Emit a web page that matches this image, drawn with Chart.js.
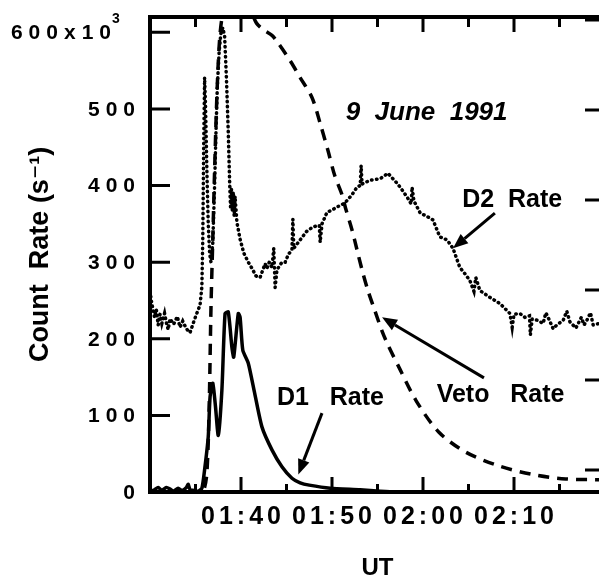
<!DOCTYPE html>
<html>
<head>
<meta charset="utf-8">
<script src="https://cdn.jsdelivr.net/npm/chart.js@4.4.1/dist/chart.umd.min.js"></script>
<style>
  html, body { margin: 0; padding: 0; background: #fff; overflow: hidden; }
  #wrap { width: 599px; height: 578px; overflow: hidden; }
  canvas { display: block; }
</style>
</head>
<body>
<div id="wrap"><canvas id="chart" width="615" height="578"></canvas></div>
<script>
/* =====================================================
   9 June 1991 – count rates (D1, D2, veto)
   time in minutes after 00:00 UT (100 = 01:40), rates in 10^3 s^-1
===================================================== */

const d2Time = [90.0, 90.2, 90.5, 90.7, 90.9, 91.1, 91.3, 91.6, 91.8, 92.0, 92.2, 92.6, 93.0, 93.3, 93.6, 94.0, 94.4, 94.8, 95.1, 95.5,
  95.7, 95.8, 95.9, 96.0, 96.1, 96.25, 96.4, 96.55, 96.7, 96.9, 97.1, 97.25, 97.4, 97.6, 97.8, 98.0, 98.2, 98.4, 98.6, 98.75,
  98.85, 98.95, 99.05, 99.15, 99.25, 99.35, 99.55, 99.9, 100.3, 100.8, 101.2, 101.65, 102.1, 102.4, 102.65, 102.85, 103.1, 103.4, 103.6, 103.75,
  103.95, 104.5, 104.85, 105.2, 105.6, 105.7, 105.8, 106.5, 107.2, 107.9, 108.6, 108.7, 108.9, 109.45, 110.0, 110.55, 111.4, 112.2, 112.75, 113.1,
  113.2, 113.3, 114.2, 115.3, 116.15, 116.6, 117.15, 117.6, 118.25, 118.7, 118.8, 119.0, 119.7, 120.4, 121.1, 121.85, 122.65, 123.3, 124.05, 124.6,
  125.15, 125.6, 125.8, 126.25, 127.35, 128.45, 129.55, 129.8, 130.0, 130.65, 131.2, 131.7, 131.8, 132.0, 132.6, 133.2, 133.5, 133.9, 134.3, 134.7,
  135.4, 135.8, 136.15, 136.8, 137.4, 137.7, 138.0, 138.4, 138.7, 139.35, 140.0];
const d2Rate = [262, 246, 228, 238, 218, 232, 220, 233, 221, 212, 226, 219, 229, 215, 223, 213, 208, 222, 232, 244,
  268, 330, 450, 541, 505, 420, 350, 312, 300, 325, 400, 470, 530, 575, 600, 606, 595, 540, 470, 405,
  372, 396, 366, 392, 360, 386, 352, 330, 312, 300, 292, 282, 280, 290, 298, 292, 300, 293, 318, 267,
  290, 300, 300, 310, 316, 356, 318, 329, 340, 346, 348, 326, 350, 365, 368, 372, 377, 388, 398, 400,
  426, 402, 407, 409, 416, 410, 403, 396, 385, 376, 398, 380, 364, 360, 355, 333, 329, 318, 293, 285,
  276, 262, 280, 263, 254, 246, 233, 215, 232, 233, 228, 230, 205, 226, 224, 220, 234, 224, 213, 218,
  224, 236, 222, 214, 228, 218, 224, 234, 218, 220, 224];

const vetoTime = [90, 95.5, 95.9, 96.25, 96.5, 96.7, 96.9, 97.1, 97.3, 97.5, 97.7, 98.0, 98.5, 99.5, 100.5, 101.2, 101.7, 102.5, 103.4, 103.9,
  105.4, 106.5, 107.8, 108.8, 109.55, 110.3, 111.1, 111.5, 112.2, 112.75, 113.3, 113.95, 114.7, 115.5, 116.15, 117.35, 119.25, 121.75, 124.7, 128.35,
  132.0, 135.7, 140];
const vetoRate = [0, 0, 2, 25, 110, 240, 330, 420, 500, 560, 598, 625, 645, 650, 640, 625, 612, 603, 596, 589,
  563, 541, 515, 477, 446, 413, 388, 370, 342, 316, 290, 263, 237, 210, 192, 163, 119, 78, 52, 34,
  23, 17, 16];

const d1Time = [90.0, 90.5, 90.9, 91.3, 91.8, 92.2, 92.6, 93.1, 93.5, 94.0, 94.2, 94.4, 94.8, 95.3, 95.7, 96.0, 96.4, 96.6, 96.9, 97.2,
  97.5, 97.9, 98.25, 98.6, 99.0, 99.2, 99.7, 99.9, 100.2, 100.8, 101.5, 102.3, 103.4, 104.5, 105.6, 106.5, 107.5, 109.8, 113.1, 115.3,
  117.0, 140.0];
const d1Rate = [0, 3, 6, 2, 6, 4, 1, 5, 2, 6, 10, 3, 2, 1, 5, 29, 72, 124, 142, 111,
  74, 133, 233, 235, 189, 176, 233, 228, 185, 168, 129, 85, 55, 33, 18, 12, 9, 5, 3, 1,
  0, 0];

// ticks that carry a UT label
const labelledTicks = [100, 110, 120, 130];

const FONT = '"Liberation Sans", Arial, Helvetica, "DejaVu Sans", sans-serif';

// annotations (data coordinates)
const notes = [
  { text: '9  June  1991', t: 111.5, v: 486, font: 'italic bold 26px ' + FONT },
  { text: 'D2  Rate', t: 124.3, v: 372, font: 'bold 25px ' + FONT },
  { text: 'D1   Rate', t: 103.95, v: 113, font: 'bold 25px ' + FONT },
  { text: 'Veto   Rate', t: 121.5, v: 117, font: 'bold 25px ' + FONT }
];
const arrows = [
  { from: [127.9, 364], to: [123.3, 318] },
  { from: [108.9, 103], to: [106.3, 23] },
  { from: [126.7, 149], to: [115.5, 228] }
];

const pts = (xs, ys) => xs.map((x, i) => ({ x: x, y: ys[i] }));
const utLabel = v => labelledTicks.includes(v) ? '0' + Math.floor(v / 60) + ':' + String(v % 60).padStart(2, '0') : '';
const yLabel = v => v === 600 ? '600x10³' : String(v);

// =========================
// Inward ticks, tick labels, annotations
// =========================
function drawArrow(ctx, x1, y1, x2, y2) {
  const a = Math.atan2(y2 - y1, x2 - x1);
  const head = 15, half = 6;
  const bx = x2 - head * Math.cos(a), by = y2 - head * Math.sin(a);
  ctx.beginPath();
  ctx.moveTo(x1, y1);
  ctx.lineTo(bx, by);
  ctx.stroke();
  ctx.beginPath();
  ctx.moveTo(x2, y2);
  ctx.lineTo(bx + half * Math.sin(a), by - half * Math.cos(a));
  ctx.lineTo(bx - half * Math.sin(a), by + half * Math.cos(a));
  ctx.closePath();
  ctx.fill();
}

const framePlugin = {
  id: 'framePlugin',
  afterDraw(chart) {
    const { ctx, chartArea: ar, scales } = chart;
    const x = scales.x, y = scales.y, y2 = scales.y2;
    ctx.save();
    ctx.strokeStyle = '#000';
    ctx.fillStyle = '#000';
    ctx.lineWidth = 3;

    ctx.beginPath();
    x.ticks.forEach(t => {
      const px = x.getPixelForValue(t.value);
      const major = t.value % 10 === 0;
      ctx.moveTo(px, ar.bottom); ctx.lineTo(px, ar.bottom - (major ? 15 : 8));
      ctx.moveTo(px, ar.top); ctx.lineTo(px, ar.top + (major ? 15 : 10));
    });
    y.ticks.forEach(t => {
      const py = y.getPixelForValue(t.value);
      ctx.moveTo(ar.left, py); ctx.lineTo(ar.left + 20, py);
    });
    y2.ticks.forEach(t => {
      const py = y2.getPixelForValue(t.value);
      ctx.moveTo(ar.right, py); ctx.lineTo(ar.right - 20, py);
    });
    ctx.stroke();

    // x tick labels (letter spaced)
    ctx.font = 'bold 25px ' + FONT;
    ctx.letterSpacing = '4px';
    ctx.textAlign = 'center';
    ctx.textBaseline = 'middle';
    x.ticks.forEach(t => {
      const label = utLabel(t.value);
      if (label) ctx.fillText(label, x.getPixelForValue(t.value) + 2, ar.bottom + 25);
    });

    // y tick labels (letter spaced)
    y.ticks.forEach(t => {
      const py = y.getPixelForValue(t.value);
      const label = yLabel(t.value);
      ctx.font = 'bold 21px ' + FONT;
      ctx.letterSpacing = '6px';
      ctx.textAlign = 'right';
      if (label.endsWith('³')) {
        ctx.fillText(label.slice(0, -1), ar.left - 33, py + 1);
        ctx.letterSpacing = '0px';
        ctx.font = 'bold 14px ' + FONT;
        ctx.textAlign = 'left';
        ctx.textBaseline = 'alphabetic';
        ctx.fillText('3', ar.left - 38, py - 9);
        ctx.textBaseline = 'middle';
      } else {
        ctx.fillText(label, ar.left - 9, py + 1);
      }
    });
    ctx.letterSpacing = '0px';

    // annotations
    ctx.textAlign = 'left';
    ctx.textBaseline = 'alphabetic';
    notes.forEach(n => {
      ctx.font = n.font;
      ctx.fillText(n.text, x.getPixelForValue(n.t), y.getPixelForValue(n.v));
    });
    ctx.lineWidth = 3;
    arrows.forEach(a => {
      drawArrow(ctx,
        x.getPixelForValue(a.from[0]), y.getPixelForValue(a.from[1]),
        x.getPixelForValue(a.to[0]), y.getPixelForValue(a.to[1]));
    });
    ctx.restore();
  }
};

const noGrid = { display: false, drawTicks: false };
const blackBorder = { display: true, width: 4, color: '#000' };

new Chart(document.getElementById('chart').getContext('2d'), {
  type: 'line',
  data: {
    datasets: [
      {
        label: 'D2 Rate',
        data: pts(d2Time, d2Rate),
        borderColor: '#000',
        borderWidth: 3.5,
        borderDash: [0.5, 4.5],
        borderCapStyle: 'round',
        pointRadius: 0,
        tension: 0
      },
      {
        label: 'Veto Rate',
        data: pts(vetoTime, vetoRate),
        borderColor: '#000',
        borderWidth: 3.5,
        borderDash: [11, 8],
        pointRadius: 0,
        tension: 0.3
      },
      {
        label: 'D1 Rate',
        data: pts(d1Time, d1Rate),
        borderColor: '#000',
        borderWidth: 3.5,
        pointRadius: 0,
        tension: 0.2
      }
    ]
  },
  options: {
    responsive: false,
    animation: false,
    devicePixelRatio: 1,
    layout: { padding: 0 },
    plugins: { legend: { display: false }, tooltip: { enabled: false } },
    scales: {
      x: {
        type: 'linear', position: 'bottom', min: 90, max: 140,
        afterFit: s => { s.height = 86; },
        grid: noGrid,
        border: blackBorder,
        ticks: { display: false, stepSize: 5, autoSkip: false, callback: v => utLabel(v) },
        title: {
          display: true, text: 'UT', color: '#000',
          font: { family: FONT, size: 24, weight: 'bold', lineHeight: 0.8 },
          padding: { top: 0, bottom: 0 }
        }
      },
      x2: {
        type: 'linear', position: 'top', min: 90, max: 140,
        afterFit: s => { s.height = 17; },
        grid: noGrid,
        border: blackBorder,
        ticks: { display: false, stepSize: 5 }
      },
      y: {
        type: 'linear', position: 'left', min: 0, max: 620,
        afterFit: s => { s.width = 150; },
        grid: noGrid,
        border: blackBorder,
        ticks: { display: false, stepSize: 100, includeBounds: false, callback: v => yLabel(v) },
        title: {
          display: true, text: 'Count  Rate (s⁻¹)', color: '#000',
          font: { family: FONT, size: 27, weight: 'bold' },
          padding: { top: 24, bottom: 0 }
        }
      },
      y2: {
        type: 'linear', position: 'right', min: -0.244, max: 5.033,
        afterFit: s => { s.width = 10; },
        grid: noGrid,
        border: blackBorder,
        ticks: { display: false, stepSize: 1, includeBounds: false }
      }
    }
  },
  plugins: [framePlugin]
});
</script>
</body>
</html>
